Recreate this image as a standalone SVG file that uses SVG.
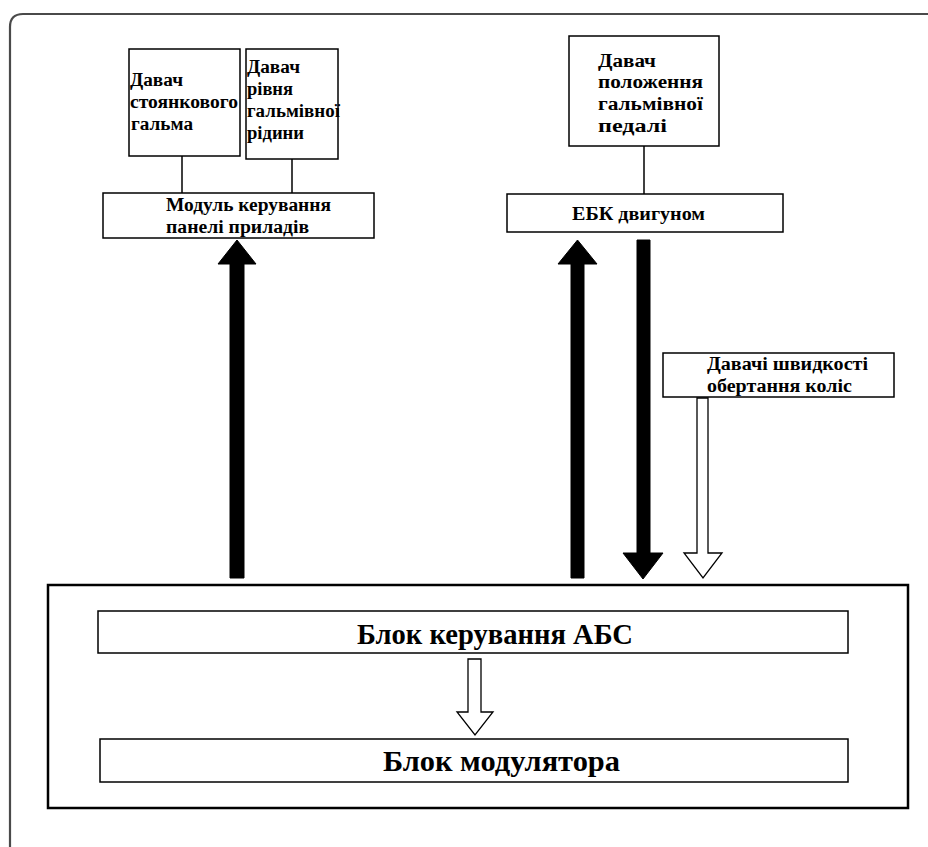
<svg xmlns="http://www.w3.org/2000/svg" width="928" height="847" viewBox="0 0 928 847">
<style>
.box{fill:#fff;stroke:#000;stroke-width:1.5}
.big{fill:none;stroke:#000;stroke-width:2.5}
.t{font-family:"Liberation Serif","Times New Roman",serif;font-weight:bold;font-size:18px;fill:#000}
.tl{font-family:"Liberation Serif","Times New Roman",serif;font-weight:bold;font-size:29px;fill:#000}
.ln{stroke:#000;stroke-width:1.5;fill:none}
.solid{fill:#000;stroke:#000;stroke-width:1}
.hollow{fill:#fff;stroke:#000;stroke-width:1.3}
</style>
<rect width="928" height="847" fill="#fff"/>
<path d="M10,847 V27 Q10,14 23,14 H928" fill="none" stroke="#4a4a4a" stroke-width="2.2"/>

<g id="connectors">
<line class="ln" x1="182" y1="156" x2="182" y2="193"/>
<line class="ln" x1="292" y1="159" x2="292" y2="193"/>
<line class="ln" x1="644" y1="146" x2="644" y2="194"/>
<polygon class="solid" points="230,578 244,578 244,264 256,264 237,240 218,264 230,264"/>
<polygon class="solid" points="571,578 584,578 584,264 597,264 577.5,240 558,264 571,264"/>
<polygon class="solid" points="637,240 650,240 650,553 663,553 643,579 623,553 637,553"/>
<polygon class="hollow" points="697,398 708,398 708,553 722,553 703,578 684,553 697,553"/>
<polygon class="hollow" points="468,659 481,659 481,712 493,712 475,735 457,712 468,712"/>
</g>

<g id="sensor-parking">
<rect class="box" x="129" y="49" width="111" height="107"/>
<text class="t" x="130" y="86" textLength="53" lengthAdjust="spacingAndGlyphs">Давач</text>
<text class="t" x="130" y="108" textLength="108" lengthAdjust="spacingAndGlyphs">стоянкового</text>
<text class="t" x="131" y="130" textLength="62" lengthAdjust="spacingAndGlyphs">гальма</text>
</g>

<g id="sensor-fluid">
<rect class="box" x="246" y="49" width="92" height="110"/>
<text class="t" x="247" y="73" textLength="53" lengthAdjust="spacingAndGlyphs">Давач</text>
<text class="t" x="247" y="95" textLength="46" lengthAdjust="spacingAndGlyphs">рівня</text>
<text class="t" x="247" y="117" textLength="93" lengthAdjust="spacingAndGlyphs">гальмівної</text>
<text class="t" x="247" y="139" textLength="57" lengthAdjust="spacingAndGlyphs">рідини</text>
</g>

<g id="dashboard-module">
<rect class="box" x="103" y="193" width="271" height="45"/>
<text class="t" x="166" y="211" textLength="165" lengthAdjust="spacingAndGlyphs">Модуль керування</text>
<text class="t" x="166" y="233" textLength="143" lengthAdjust="spacingAndGlyphs">панелі приладів</text>
</g>

<g id="sensor-pedal">
<rect class="box" x="569" y="36" width="150" height="110"/>
<text class="t" x="598" y="67" textLength="58" lengthAdjust="spacingAndGlyphs">Давач</text>
<text class="t" x="598" y="88" textLength="105" lengthAdjust="spacingAndGlyphs">положення</text>
<text class="t" x="598" y="110" textLength="105" lengthAdjust="spacingAndGlyphs">гальмівної</text>
<text class="t" x="598" y="132" textLength="69" lengthAdjust="spacingAndGlyphs">педалі</text>
</g>

<g id="engine-ecu">
<rect class="box" x="507" y="194" width="276" height="38"/>
<text class="t" x="572" y="220" textLength="133" lengthAdjust="spacingAndGlyphs">ЕБК двигуном</text>
</g>

<g id="wheel-speed">
<rect class="box" x="663" y="353" width="231" height="44"/>
<text class="t" x="707" y="370" textLength="161" lengthAdjust="spacingAndGlyphs">Давачі швидкості</text>
<text class="t" x="707" y="392" textLength="145" lengthAdjust="spacingAndGlyphs">обертання коліс</text>
</g>

<g id="abs-unit">
<rect class="big" x="48" y="585" width="860" height="223"/>
</g>

<g id="abs-control">
<rect class="box" x="98" y="611" width="750" height="42"/>
<text class="tl" x="357" y="644" textLength="276" lengthAdjust="spacingAndGlyphs">Блок керування АБС</text>
</g>

<g id="modulator">
<rect class="box" x="100" y="739" width="748" height="43"/>
<text class="tl" x="383" y="771" textLength="237" lengthAdjust="spacingAndGlyphs">Блок модулятора</text>
</g>
</svg>
